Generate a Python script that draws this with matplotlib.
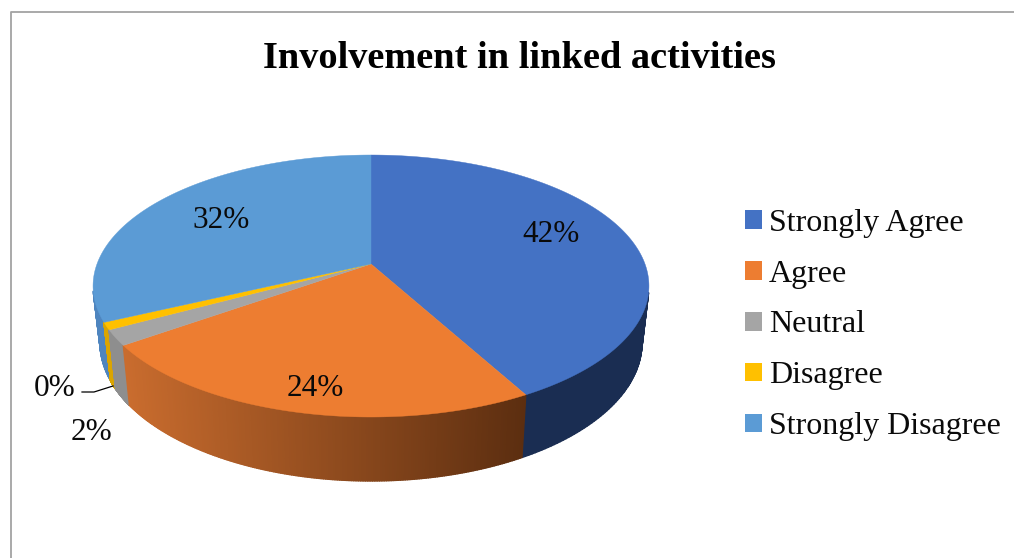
#!/usr/bin/env python3
# -*- coding: utf-8 -*-
import numpy as np
import matplotlib
matplotlib.use("Agg")
import matplotlib.pyplot as plt
from matplotlib.collections import PolyCollection
from matplotlib.colors import to_rgb
from matplotlib.patches import Patch, Polygon

plt.rcParams['font.family'] = ['Liberation Serif', 'DejaVu Serif']

title = "Involvement in linked activities"
categories = ["Strongly Agree", "Agree", "Neutral", "Disagree", "Strongly Disagree"]
shares = [42.0, 23.2, 1.9, 0.9, 32.0]
pct_labels = ["42%", "24%", "2%", "0%", "32%"]

top_colors = ["#4472C4", "#ED7D31", "#A5A5A5", "#FFC000", "#5B9BD5"]
# wall colour at the left end and at the right end of each slice
wall_left = ["#1A2D52", "#C96C2E", "#8E8E8E", "#DBA500", "#4E85BF"]
wall_right = ["#1A2D52", "#5C2E10", "#8E8E8E", "#DBA500", "#4E85BF"]

# pie geometry in pixels, perspective tilted
cx, cy = 371, 264
a, b, k = 274.0, 127.3, 0.168


def rim(frac):
    t = 2 * np.pi * np.asarray(frac)
    u, v = np.sin(t), np.cos(t)
    w = 1 + k * v
    return a * u / w, b * v / w


def top_xy(frac):
    X, Y = rim(frac)
    return np.column_stack([cx + X, cy - Y])


def bottom_xy(frac):
    X, Y = rim(frac)
    return np.column_stack([cx + 0.975 * X, cy - (1.056 * Y - 55.4)])


edges = np.concatenate([[0], np.cumsum(shares)]) / np.sum(shares)

fig = plt.figure(figsize=(10.14, 5.58), dpi=100)
ax = fig.add_axes([0, 0, 1, 1])
ax.set_xlim(0, 1014)
ax.set_ylim(558, 0)
ax.axis('off')

# chart frame, cut off by the picture on the right and bottom
ax.plot([11, 11, 1014], [558, 12, 12], color='#A3A3A3', linewidth=1.3)

# side walls, thin quads so the shading can change along the slice
for i in [4, 0, 3, 2, 1]:
    f = np.linspace(edges[i], edges[i + 1], 200)
    tp, bt = top_xy(f), bottom_xy(f)
    # the back of the wall is hidden by the top face
    keep = tp[:, 1] > cy + 27
    tp, bt = tp[keep], bt[keep]
    quads = [[tp[j], tp[j + 1], bt[j + 1], bt[j]] for j in range(len(tp) - 1)]
    xm = np.array([q[0][0] for q in quads])
    s = (xm - xm.min()) / max(xm.max() - xm.min(), 1)
    c0, c1 = np.array(to_rgb(wall_left[i])), np.array(to_rgb(wall_right[i]))
    cols = [tuple(c0 + (c1 - c0) * v) for v in s]
    ax.add_collection(PolyCollection(quads, facecolors=cols, edgecolors=cols, linewidths=1.0))

# top faces
for i in range(len(shares)):
    f = np.linspace(edges[i], edges[i + 1], 300)
    pts = np.vstack([[cx, cy], top_xy(f)])
    ax.add_patch(Polygon(pts, closed=True, facecolor=top_colors[i],
                         edgecolor=top_colors[i], linewidth=0.3))

# data labels
label_pos = [(551, 235), (315, 389), (92, 432), (55, 388), (221, 220)]
for lab, (x, y) in zip(pct_labels, label_pos):
    ax.text(x, y, lab, fontsize=22.5, color='#0A0A0A', ha='center', va='center')

# leader line for the 0% label
ax.plot([82, 94, 113], [392, 392, 386], color='black', linewidth=0.9)

ax.text(519, 59, title, fontsize=27.6, fontweight='bold', color='black',
        ha='center', va='center')

handles = [Patch(facecolor=c, edgecolor='none') for c in top_colors]
ax.legend(handles, categories, loc='center left', bbox_to_anchor=(745, 325),
          bbox_transform=ax.transData, frameon=False, fontsize=23,
          labelspacing=0.685, handlelength=0.53, handleheight=0.53,
          handletextpad=0.22, borderpad=0, borderaxespad=0, labelcolor='#0A0A0A')

fig.savefig("out.png", dpi=100)
